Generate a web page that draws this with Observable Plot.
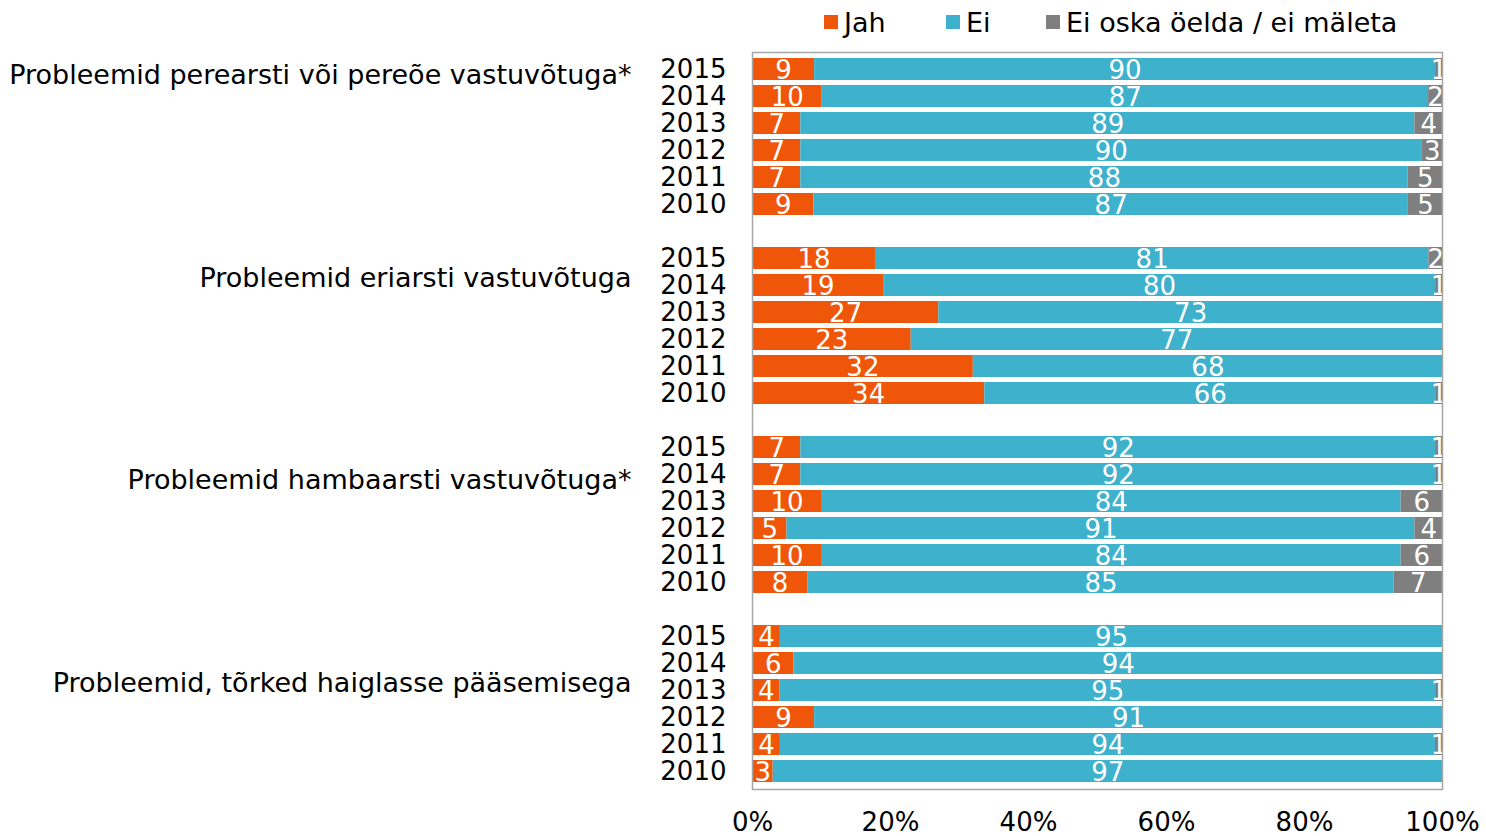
<!DOCTYPE html>
<html>
<head>
<meta charset="utf-8">
<script src="https://cdn.jsdelivr.net/npm/d3@7"></script>
<script src="https://cdn.jsdelivr.net/npm/@observablehq/plot@0.6"></script>
<style>
  body { margin: 0; background: #fff; font-family: "DejaVu Sans", Verdana, sans-serif; overflow: hidden; }
  #legend { position: relative; width: 1486px; height: 44px; }
  .item { position: absolute; top: 0; height: 44px; display: flex; align-items: center; font-size: 27px; color: #000; }
  .sw { width: 14px; height: 14px; margin-right: 6px; }
  #chart svg { display: block; }
</style>
</head>
<body>
<div id="legend"></div>
<div id="chart"></div>
<script>
const categories = [
  "Probleemid perearsti või pereõe vastuvõtuga*",
  "Probleemid eriarsti vastuvõtuga",
  "Probleemid hambaarsti vastuvõtuga*",
  "Probleemid, tõrked haiglasse pääsemisega"
];
const years = ["2015", "2014", "2013", "2012", "2011", "2010"];
const seriesNames = ["Jah", "Ei", "Ei oska öelda / ei mäleta"];
const colors = ["#F0560A", "#3EB1CD", "#7F7F7F"];

// values per category, rows follow `years`
const jah = [
  [9, 10, 7, 7, 7, 9],
  [18, 19, 27, 23, 32, 34],
  [7, 7, 10, 5, 10, 8],
  [4, 6, 4, 9, 4, 3]
];
const ei = [
  [90, 87, 89, 90, 88, 87],
  [81, 80, 73, 77, 68, 66],
  [92, 92, 84, 91, 84, 85],
  [95, 94, 95, 91, 94, 97]
];
const eiOska = [
  [1, 2, 4, 3, 5, 5],
  [2, 1, null, null, null, 1],
  [1, 1, 6, 4, 6, 7],
  [null, null, 1, null, 1, null]
];
const xTicks = [0, 0.2, 0.4, 0.6, 0.8, 1];

// Legend
const legend = document.getElementById("legend");
const legendLeft = [824, 946, 1046];
seriesNames.forEach((s, i) => {
  const d = document.createElement("div");
  d.className = "item";
  d.style.left = legendLeft[i] + "px";
  d.innerHTML = `<div class="sw" style="background:${colors[i]}"></div><span>${s}</span>`;
  legend.appendChild(d);
});

// Build rows
const domain = [];
const data = [];
const seriesArrays = [jah, ei, eiOska];
categories.forEach((c, gi) => {
  years.forEach((y, yi) => {
    const key = `g${gi}-${y}`;
    domain.push(key);
    seriesArrays.forEach((arr, si) => {
      const v = arr[gi][yi];
      if (v != null) data.push({key, series: seriesNames[si], value: v});
    });
  });
  if (gi < categories.length - 1) domain.push(`sp${gi}`);
});

const stackOpts = {x: "value", y: "key", z: "series", order: seriesNames, offset: "normalize"};

const catMarks = categories.map((c, gi) => Plot.text([c], {
  y: [`g${gi}-2014`], text: d => d, frameAnchor: "left", dx: -121, dy: -21 + 13.5 * gi,
  textAnchor: "end", fontSize: 27, fill: "#000"
}));

const chart = Plot.plot({
  width: 1486,
  height: 792,
  marginTop: 8,
  marginBottom: 47,
  marginLeft: 752,
  marginRight: 44,
  style: {fontFamily: "DejaVu Sans, Verdana, sans-serif", fontSize: "26px", color: "#000", background: "#fff", overflow: "visible"},
  x: {domain: [0, 1], ticks: xTicks, label: null},
  y: {domain, paddingInner: 0.18, paddingOuter: 0.09, label: null},
  color: {domain: seriesNames, range: colors},
  marks: [
    Plot.barX(data, Plot.stackX({...stackOpts, fill: "series"})),
    Plot.textX(data, Plot.stackX({...stackOpts, text: d => String(d.value), fill: "#fff", fontSize: 26, dy: 1})),
    Plot.frame({stroke: "#A6A6A6", strokeWidth: 1.5}),
    Plot.axisY({label: null, tickSize: 0, tickPadding: 26, fontSize: 26, tickFormat: k => k.startsWith("sp") ? "" : k.split("-")[1]}),
    Plot.axisX({label: null, tickSize: 0, tickPadding: 23, fontSize: 26, ticks: xTicks, tickFormat: d3.format(".0%")}),
    ...catMarks
  ]
});
document.getElementById("chart").appendChild(chart);
</script>
</body>
</html>
